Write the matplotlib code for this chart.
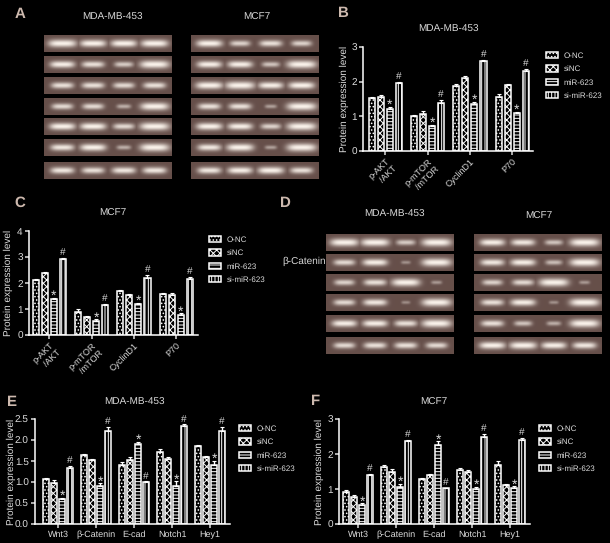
import matplotlib
matplotlib.use('Agg')
import matplotlib.pyplot as plt
from matplotlib.patches import Patch
import numpy as np

plt.rcParams['font.family'] = ['Liberation Sans', 'DejaVu Sans']
plt.rcParams['hatch.linewidth'] = 0.7
plt.rcParams['text.hinting'] = 'no_hinting'
plt.rcParams['text.hinting_factor'] = 1

series_names = ['O-NC', 'siNC', 'miR-623', 'si-miR-623']

b_groups = ['p-AKT\n/AKT', 'p-mTOR\n/mTOR', 'CyclinD1', 'P70']
b_values = [[1.52, 1.55, 1.22, 1.97], [1.00, 1.08, 0.72, 1.38], [1.87, 2.12, 1.37, 2.60], [1.57, 1.90, 1.10, 2.32]]
b_errors = [[0.05, 0.06, 0.05, 0.02], [0.03, 0.07, 0.04, 0.10], [0.07, 0.05, 0.05, 0.03], [0.08, 0.02, 0.03, 0.04]]

c_groups = ['p-AKT\n/AKT', 'p-mTOR\n/mTOR', 'CyclinD1', 'P70']
c_values = [[2.10, 2.40, 1.40, 2.92], [0.90, 0.68, 0.55, 1.15], [1.68, 1.52, 1.20, 2.18], [1.58, 1.55, 0.76, 2.14]]
c_errors = [[0.06, 0.03, 0.04, 0.05], [0.10, 0.07, 0.05, 0.05], [0.04, 0.04, 0.04, 0.12], [0.05, 0.08, 0.07, 0.10]]

e_groups = ['Wnt3', 'β-Catenin', 'E-cad', 'Notch1', 'Hey1']
e_values = [[1.08, 0.97, 0.60, 1.33], [1.65, 1.53, 0.90, 2.22], [1.40, 1.52, 1.90, 1.00], [1.72, 1.56, 0.90, 2.33], [1.86, 1.59, 1.42, 2.22]]
e_errors = [[0.03, 0.07, 0.03, 0.06], [0.03, 0.03, 0.07, 0.09], [0.08, 0.07, 0.06, 0.02], [0.07, 0.03, 0.12, 0.05], [0.03, 0.04, 0.08, 0.09]]

f_groups = ['Wnt3', 'β-Catenin', 'E-cad', 'Notch1', 'Hey1']
f_values = [[0.92, 0.78, 0.55, 1.40], [1.62, 1.50, 1.07, 2.38], [1.28, 1.40, 2.25, 1.02], [1.55, 1.48, 1.00, 2.50], [1.70, 1.12, 1.02, 2.40]]
f_errors = [[0.04, 0.04, 0.04, 0.04], [0.07, 0.09, 0.09, 0.04], [0.05, 0.04, 0.12, 0.02], [0.05, 0.06, 0.07, 0.09], [0.10, 0.02, 0.06, 0.07]]

# band strength per strip, four lanes each
a_left = [[.95, .85, .85, .9], [.8, .7, .55, 1.0], [.7, .7, .65, .7], [.65, .65, .35, .95], [.85, .85, .65, 1.0], [.75, .85, .35, 1.0], [.75, .7, .75, .75]]
a_right = [[.85, .6, .7, .6], [.8, .8, .5, 1.0], [.9, 1.0, .8, .85], [.7, .7, .25, 1.0], [.85, .8, .6, 1.0], [.75, .9, .25, 1.0], [.75, .8, .85, .7]]
d_left = [[.95, .95, .55, 1.0], [.65, .8, .15, 1.0], [.6, .7, .95, .2], [.65, .75, .12, 1.0], [.8, .8, .7, 1.0], [.65, .7, .7, .65]]
d_right = [[.8, .75, .5, 1.0], [.75, .8, .45, 1.0], [.6, .65, 1.0, .2], [.7, .8, .15, 1.0], [.7, .5, .35, 1.0], [.85, .9, .8, .75]]

WIDTH, HEIGHT = 610, 543
BG = 'black'
FG = '#dcdcdc'
hatches = ['.....', 'xxxxx', '-----', '|||||']

fig = plt.figure(figsize=(WIDTH / 100, HEIGHT / 100), dpi=100, facecolor=BG)


def px_text(x, y, s, size=7, weight='normal', color='#d8d8d8', ha='center'):
    fig.text(x / WIDTH, 1 - y / HEIGHT, s, fontsize=size, fontweight=weight, color=color, ha=ha, va='center')


def bar_panel(rect, groups, values, errors, ymax, yticks, ticklabels, first_x, step, group_step, rotated, legend_xy, ylabel_x):
    left, right, top, bottom = rect
    ax = fig.add_axes([left / WIDTH, 1 - bottom / HEIGHT, (right - left) / WIDTH, (bottom - top) / HEIGHT], facecolor=BG)
    ax.set_xlim(left, right)
    ax.set_ylim(0, ymax)
    centers = []
    for g, vals in enumerate(values):
        x0 = first_x + g * group_step
        xs = [x0 + j * step for j in range(4)]
        centers.append(np.mean(xs))
        for j in range(4):
            ax.bar(xs[j], vals[j], width=step * 0.68, facecolor=BG, edgecolor='white', linewidth=1.1, hatch=hatches[j])
            ax.errorbar(xs[j], vals[j], yerr=[[0], [errors[g][j]]], color='white', elinewidth=1.0, capsize=1.2, capthick=0.8)
        # star goes on the miR-623 bar, hash on si-miR-623
        for j, mark, size, dy in [(2, '*', 10, -3.5), (3, '#', 7, 0.5)]:
            ax.annotate(mark, (xs[j], vals[j] + errors[g][j]), xytext=(0, dy),
                        textcoords='offset points', ha='center', va='bottom', color=FG, fontsize=size)
    for side in ['top', 'right']:
        ax.spines[side].set_visible(False)
    for side in ['left', 'bottom']:
        ax.spines[side].set_color('white')
        ax.spines[side].set_linewidth(1.1)
    ax.set_yticks(yticks)
    ax.set_yticklabels(ticklabels)
    ax.set_xticks(centers)
    if rotated:
        ax.set_xticklabels(groups, rotation=45, ha='right', rotation_mode='anchor', linespacing=1.25)
    else:
        ax.set_xticklabels(groups)
    ax.tick_params(colors=FG, labelsize=7, width=1.1, length=3, pad=1.5)
    ax.tick_params(axis='x', labelsize=6.3)
    ax.set_ylabel('Protein expression level', fontsize=7, color=FG)
    ax.yaxis.set_label_coords((ylabel_x - left) / (right - left), 0.5)
    handles = [Patch(facecolor=BG, edgecolor='white', hatch=hatches[j], linewidth=1.1, label=series_names[j]) for j in range(4)]
    fig.legend(handles=handles, loc='upper left', frameon=False, fontsize=6.1, labelcolor=FG,
               bbox_to_anchor=(legend_xy[0] / WIDTH, 1 - legend_xy[1] / HEIGHT), borderpad=0, borderaxespad=0,
               handlelength=1.4, handleheight=0.75, handletextpad=0.65, labelspacing=0.66)
    return ax


bar_panel((363, 533, 47, 151), b_groups, b_values, b_errors, 3, [0, 1, 2, 3], ['0', '1', '2', '3'], 371.7, 9.05, 42.3, True, (546, 52), 349)
bar_panel((29, 198, 231, 335), c_groups, c_values, c_errors, 4, [0, 1, 2, 3, 4], ['0', '1', '2', '3', '4'], 35.7, 9.05, 42.3, True, (209, 236), 13)
bar_panel((35, 230, 419.3, 524), e_groups, e_values, e_errors, 2.5, [0, 0.5, 1, 1.5, 2, 2.5], ['0.0', '0.5', '1.0', '1.5', '2.0', '2.5'], 46, 8.05, 38, False, (239, 425), 16)
bar_panel((339.3, 530, 419.3, 524), f_groups, f_values, f_errors, 3, [0, 1, 2, 3], ['0', '1', '2', '3'], 346, 8.05, 38, False, (539, 425), 324)

# western blot strips, drawn on an overlay in pixel coordinates
overlay = fig.add_axes([0, 0, 1, 1], facecolor='none')
overlay.axis('off')


def draw_strip(x0, x1, y0, y1, strengths):
    h, w = 34, 128
    yy, xx = np.mgrid[0:h, 0:w]
    img = np.zeros((h, w))
    for lane, s in enumerate(strengths):
        cx = (0.14 + lane * 0.24) * w
        hw = 3 + 12 * s
        hh = 2.5 + 5.5 * s
        band = np.exp(-((xx - cx) / hw) ** 4 - ((yy - h * 0.48) / hh) ** 2)
        img = np.maximum(img, min(1, 0.3 + 0.85 * s) * band)
    bg = np.array([0.40, 0.31, 0.29])
    fg = np.array([0.98, 0.95, 0.92])
    rgb = bg + (fg - bg) * img[..., None]
    overlay.imshow(rgb, extent=(x0, x1, y1, y0), interpolation='bilinear', aspect='auto', zorder=1)


a_rows = [(35.7, 52.3), (56.3, 73), (77.3, 94), (98, 114.7), (118.7, 135.3), (139.3, 156), (162.3, 179)]
d_rows = [(234, 250.7), (254.3, 271), (274.3, 291), (294.3, 311), (315.7, 332.3), (337.3, 354)]
for (y0, y1), s in zip(a_rows, a_left):
    draw_strip(44, 171.3, y0, y1, s)
for (y0, y1), s in zip(a_rows, a_right):
    draw_strip(191.3, 318.7, y0, y1, s)
for (y0, y1), s in zip(d_rows, d_left):
    draw_strip(326.3, 453.7, y0, y1, s)
for (y0, y1), s in zip(d_rows, d_right):
    draw_strip(474, 601.3, y0, y1, s)
overlay.set_xlim(0, WIDTH)
overlay.set_ylim(HEIGHT, 0)

px_text(112, 17, 'MDA-MB-453')
px_text(257, 17, 'MCF7')
px_text(448, 29, 'MDA-MB-453')
px_text(113, 213, 'MCF7')
px_text(394, 214, 'MDA-MB-453')
px_text(539, 216, 'MCF7')
px_text(134, 402, 'MDA-MB-453')
px_text(434, 402, 'MCF7')
px_text(282, 261, 'β-Catenin', ha='left')

letter_color = '#cdb9ae'
px_text(20, 14, 'A', 11, 'bold', letter_color)
px_text(343, 13, 'B', 11, 'bold', letter_color)
px_text(20, 203, 'C', 11, 'bold', letter_color)
px_text(285, 203, 'D', 11, 'bold', letter_color)
px_text(12, 402, 'E', 11, 'bold', letter_color)
px_text(316, 401, 'F', 11, 'bold', letter_color)

plt.savefig('out.png', dpi=100, facecolor=BG)
